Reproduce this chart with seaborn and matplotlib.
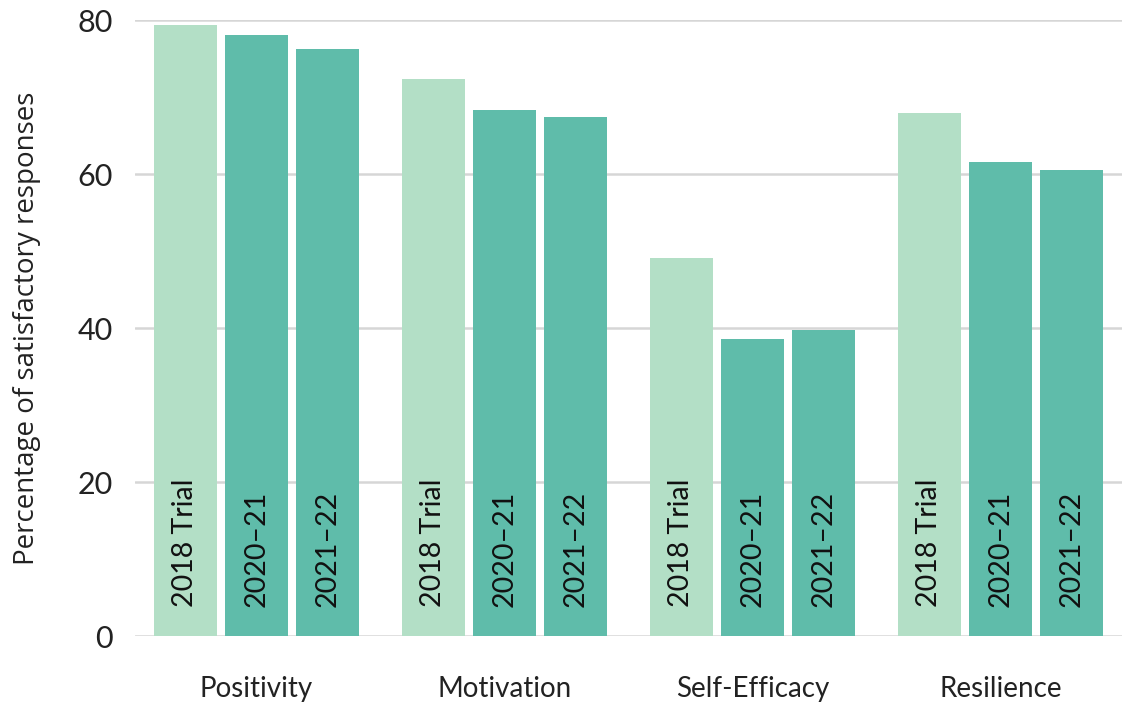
import matplotlib
matplotlib.use("Agg")
import matplotlib.pyplot as plt
import seaborn as sns
import pandas as pd

categories = ["Positivity", "Motivation", "Self-Efficacy", "Resilience"]
series_names = ["2018 Trial", "2020\u201321", "2021\u201322"]
trial_2018 = [79.4, 72.4, 49.1, 67.9]
year_2020_21 = [78.0, 68.3, 38.6, 61.5]
year_2021_22 = [76.2, 67.4, 39.8, 60.5]
y_ticks = [0, 20, 40, 60, 80]

rows = []
for name, vals in zip(series_names, [trial_2018, year_2020_21, year_2021_22]):
    for c, v in zip(categories, vals):
        rows.append({"category": c, "series": name, "value": v})
df = pd.DataFrame(rows)

sns.set_theme(style="white")
plt.rcParams["font.family"] = ["Lato", "DejaVu Sans"]

fig = plt.figure(figsize=(11.22, 7.02), dpi=100)
ax = fig.add_axes([135 / 1122, 1 - 636 / 702, 1 - 135 / 1122, (636 - 20) / 702])

palette = {series_names[0]: "#b3dfc6", series_names[1]: "#5fbcaa", series_names[2]: "#5fbcaa"}
sns.barplot(data=df, x="category", y="value", hue="series", order=categories,
            hue_order=series_names, palette=palette, width=0.86, gap=0.11,
            saturation=1, legend=False, ax=ax, linewidth=0)

ax.set_ylim(0, 80)
ax.set_xlim(-0.49, 3.49)
ax.set_yticks(y_ticks)
ax.set_yticklabels([str(t) for t in y_ticks], fontsize=22, color="#222222")
ax.tick_params(axis="y", length=0, pad=16)
ax.tick_params(axis="x", length=0, pad=29, labelsize=20, labelcolor="#222222")
ax.yaxis.grid(True, color="#d6d6d6", linewidth=1.8)
ax.set_axisbelow(True)
for s in ax.spines.values():
    s.set_visible(False)
ax.set_xlabel("")
ax.set_ylabel("Percentage of satisfactory responses", fontsize=20,
              family=["Open Sans", "DejaVu Sans"], color="#222222", labelpad=26)

# in-bar labels
bars = [p for p in ax.patches if p.get_height() > 0]
order_labels = []
for name in series_names:
    order_labels += [name] * len(categories)
for p, lab in zip(bars, order_labels):
    ax.text(p.get_x() + p.get_width() / 2, 3.8, lab, rotation=90, ha="center",
            va="bottom", fontsize=20.5, color="#111111")

fig.savefig("out.png", dpi=100)
